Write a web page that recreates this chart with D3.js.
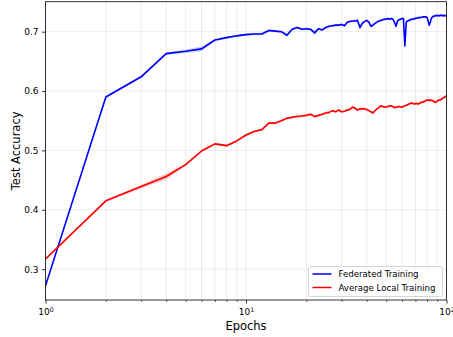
<!DOCTYPE html>
<html>
<head>
<meta charset="utf-8">
<script src="https://cdn.jsdelivr.net/npm/d3@7"></script>
<style>
  html, body { margin: 0; padding: 0; background: #fff; }
  svg { display: block; font-family: "DejaVu Sans", sans-serif; }
</style>
</head>
<body>
<svg id="chart" width="453" height="337"></svg>
<script>
// Test accuracy per epoch (1..100), mean and spread over runs
const epochs = d3.range(1, 101);

const federatedMean = [
  0.272, 0.590, 0.624, 0.663, 0.667, 0.671, 0.686, 0.690, 0.693, 0.695,
  0.696, 0.696, 0.702, 0.701, 0.700, 0.694, 0.704, 0.707, 0.704, 0.705,
  0.704, 0.698, 0.705, 0.703, 0.707, 0.709, 0.710, 0.711, 0.711, 0.712,
  0.710, 0.716, 0.717, 0.718, 0.718, 0.719, 0.707, 0.714, 0.717, 0.719,
  0.716, 0.709, 0.711, 0.714, 0.716, 0.718, 0.719, 0.720, 0.721, 0.721,
  0.722, 0.721, 0.722, 0.721, 0.716, 0.709, 0.718, 0.720, 0.721, 0.722,
  0.722, 0.676, 0.716, 0.718, 0.719, 0.720, 0.721, 0.721, 0.722, 0.722,
  0.723, 0.723, 0.724, 0.724, 0.724, 0.725, 0.725, 0.725, 0.725, 0.724,
  0.718, 0.711, 0.716, 0.722, 0.725, 0.726, 0.726, 0.727, 0.727, 0.727,
  0.727, 0.727, 0.727, 0.728, 0.727, 0.727, 0.727, 0.727, 0.727, 0.727
];

const federatedStd = [
  0.001, 0.002, 0.002, 0.002, 0.003, 0.004, 0.002, 0.002, 0.002, 0.002,
  0.002, 0.002, 0.002, 0.002, 0.002, 0.003, 0.002, 0.002, 0.002, 0.002,
  0.002, 0.003, 0.002, 0.002, 0.002, 0.002, 0.002, 0.002, 0.002, 0.002,
  0.002, 0.002, 0.002, 0.002, 0.002, 0.002, 0.004, 0.003, 0.002, 0.002,
  0.002, 0.003, 0.003, 0.002, 0.002, 0.002, 0.002, 0.002, 0.002, 0.002,
  0.002, 0.002, 0.002, 0.002, 0.003, 0.004, 0.002, 0.002, 0.002, 0.002,
  0.002, 0.007, 0.003, 0.002, 0.002, 0.002, 0.002, 0.002, 0.002, 0.002,
  0.002, 0.002, 0.002, 0.002, 0.002, 0.002, 0.002, 0.002, 0.002, 0.002,
  0.003, 0.004, 0.003, 0.002, 0.002, 0.002, 0.002, 0.002, 0.002, 0.002,
  0.002, 0.002, 0.002, 0.002, 0.002, 0.002, 0.002, 0.002, 0.002, 0.002
];

const localMean = [
  0.317, 0.415, 0.439, 0.456, 0.476, 0.499, 0.511, 0.508, 0.516, 0.526,
  0.532, 0.535, 0.546, 0.546, 0.550, 0.554, 0.556, 0.557, 0.558, 0.559,
  0.561, 0.557, 0.559, 0.561, 0.563, 0.564, 0.567, 0.565, 0.568, 0.565,
  0.566, 0.568, 0.569, 0.573, 0.571, 0.568, 0.570, 0.570, 0.570, 0.569,
  0.567, 0.565, 0.563, 0.567, 0.570, 0.572, 0.575, 0.574, 0.573, 0.573,
  0.574, 0.575, 0.575, 0.574, 0.572, 0.573, 0.573, 0.574, 0.573, 0.573,
  0.574, 0.575, 0.576, 0.577, 0.578, 0.579, 0.580, 0.579, 0.578, 0.579,
  0.579, 0.578, 0.579, 0.580, 0.581, 0.581, 0.582, 0.583, 0.584, 0.585,
  0.585, 0.584, 0.585, 0.584, 0.584, 0.583, 0.582, 0.581, 0.582, 0.583,
  0.584, 0.585, 0.585, 0.586, 0.587, 0.588, 0.589, 0.590, 0.591, 0.592
];

const localStd = [
  0.003, 0.002, 0.003, 0.005, 0.002, 0.002, 0.002, 0.002, 0.002, 0.002,
  0.002, 0.002, 0.002, 0.002, 0.002, 0.002, 0.002, 0.002, 0.002, 0.002,
  0.002, 0.002, 0.002, 0.002, 0.002, 0.002, 0.002, 0.002, 0.002, 0.002,
  0.002, 0.002, 0.002, 0.002, 0.002, 0.002, 0.002, 0.002, 0.002, 0.002,
  0.002, 0.002, 0.002, 0.002, 0.002, 0.002, 0.002, 0.002, 0.002, 0.002,
  0.002, 0.002, 0.002, 0.002, 0.002, 0.002, 0.002, 0.002, 0.002, 0.002,
  0.002, 0.002, 0.002, 0.002, 0.002, 0.002, 0.002, 0.002, 0.002, 0.002,
  0.002, 0.002, 0.002, 0.002, 0.002, 0.002, 0.002, 0.002, 0.002, 0.002,
  0.002, 0.002, 0.002, 0.002, 0.002, 0.002, 0.002, 0.002, 0.002, 0.002,
  0.002, 0.002, 0.002, 0.002, 0.002, 0.002, 0.002, 0.002, 0.002, 0.002
];

const seriesNames = ["Federated Training", "Average Local Training"];
const seriesColors = ["#0000ff", "#ff0000"];
const yTicks = [0.3, 0.4, 0.5, 0.6, 0.7];
const xMajorTicks = [1, 10, 100];
const xMinorTicks = [2, 3, 4, 5, 6, 7, 8, 9, 20, 30, 40, 50, 60, 70, 80, 90];
const xTickExponents = ["0", "1", "2"];

const margin = { left: 45.5, right: 6.5, top: 1.7, bottom: 37 };
const W = 453, H = 337;
const svg = d3.select("#chart");

const x = d3.scaleLog().domain([1, 100]).range([margin.left, W - margin.right]);
const y = d3.scaleLinear().domain([0.248, 0.7505]).range([H - margin.bottom, margin.top]);

const plot = svg.append("g");

// grid lines (major + minor on x, major on y)
plot.append("g").selectAll("line.gx")
  .data(xMajorTicks.concat(xMinorTicks))
  .join("line")
  .attr("x1", d => x(d)).attr("x2", d => x(d))
  .attr("y1", y.range()[1]).attr("y2", y.range()[0])
  .attr("stroke", "#b0b0b0").attr("stroke-opacity", 0.3).attr("stroke-width", 0.8);
plot.append("g").selectAll("line.gy")
  .data(yTicks)
  .join("line")
  .attr("x1", x.range()[0]).attr("x2", x.range()[1])
  .attr("y1", d => y(d)).attr("y2", d => y(d))
  .attr("stroke", "#b0b0b0").attr("stroke-opacity", 0.3).attr("stroke-width", 0.8);

svg.append("clipPath").attr("id", "plotclip")
  .append("rect")
  .attr("x", x.range()[0]).attr("y", y.range()[1])
  .attr("width", x.range()[1] - x.range()[0])
  .attr("height", y.range()[0] - y.range()[1]);

const seriesData = [
  { mean: federatedMean, std: federatedStd },
  { mean: localMean, std: localStd }
];

const area = d3.area()
  .x(d => x(d.e))
  .y0(d => y(d.m - d.s))
  .y1(d => y(d.m + d.s));
const line = d3.line()
  .x(d => x(d.e))
  .y(d => y(d.m));

const marks = plot.append("g").attr("clip-path", "url(#plotclip)");
seriesData.forEach((s, i) => {
  const pts = epochs.map((e, k) => ({ e, m: s.mean[k], s: s.std[k] }));
  marks.append("path").datum(pts)
    .attr("d", area)
    .attr("fill", seriesColors[i]).attr("fill-opacity", 0.2);
});
seriesData.forEach((s, i) => {
  const pts = epochs.map((e, k) => ({ e, m: s.mean[k], s: s.std[k] }));
  marks.append("path").datum(pts)
    .attr("d", line)
    .attr("fill", "none")
    .attr("stroke", seriesColors[i])
    .attr("stroke-width", 1.6)
    .attr("stroke-linejoin", "round");
});

// axes
const yAxis = d3.axisLeft(y).tickValues(yTicks).tickSize(3.5).tickPadding(3.5)
  .tickFormat(d3.format(".1f"));
const gy = svg.append("g").attr("transform", `translate(${x.range()[0]},0)`).call(yAxis);
gy.select(".domain").remove();
gy.selectAll("line").attr("stroke", "#000").attr("stroke-width", 0.8);
gy.selectAll("text").attr("font-size", 9).attr("fill", "#000")
  .attr("font-family", "DejaVu Sans, sans-serif");

const xAxis = d3.axisBottom(x).tickValues(xMajorTicks).tickSize(3.5).tickPadding(3.5)
  .tickFormat(() => "");
const gx = svg.append("g").attr("transform", `translate(0,${y.range()[0]})`).call(xAxis);
gx.select(".domain").remove();
gx.selectAll("line").attr("stroke", "#000").attr("stroke-width", 0.8);
gx.selectAll(".tick text").each(function (d, i) {
  const t = d3.select(this)
    .attr("font-size", 9).attr("fill", "#000")
    .attr("font-family", "DejaVu Sans, sans-serif")
    .attr("dy", "0.85em");
  t.append("tspan").text("10");
  t.append("tspan").attr("font-size", 6.3).attr("dy", "-0.4em").text(xTickExponents[i]);
});
const xMinor = d3.axisBottom(x).tickValues(xMinorTicks).tickSize(2).tickFormat(() => "");
const gxm = svg.append("g").attr("transform", `translate(0,${y.range()[0]})`).call(xMinor);
gxm.select(".domain").remove();
gxm.selectAll("line").attr("stroke", "#000").attr("stroke-width", 0.6);

// frame
svg.append("rect")
  .attr("x", x.range()[0]).attr("y", y.range()[1])
  .attr("width", x.range()[1] - x.range()[0])
  .attr("height", y.range()[0] - y.range()[1])
  .attr("fill", "none").attr("stroke", "#000").attr("stroke-width", 0.8);

// axis titles
svg.append("text")
  .attr("x", (x.range()[0] + x.range()[1]) / 2).attr("y", 330)
  .attr("text-anchor", "middle").attr("font-size", 11.5).attr("fill", "#000")
  .text("Epochs");
svg.append("text")
  .attr("transform", `translate(20,${(y.range()[0] + y.range()[1]) / 2}) rotate(-90)`)
  .attr("text-anchor", "middle").attr("font-size", 11.5).attr("fill", "#000")
  .text("Test Accuracy");

// legend
const lg = svg.append("g").attr("transform", "translate(308.5,266.5)");
lg.append("rect")
  .attr("width", 134).attr("height", 30).attr("rx", 2.5)
  .attr("fill", "#fff").attr("fill-opacity", 0.8)
  .attr("stroke", "#cccccc").attr("stroke-width", 0.8);
seriesNames.forEach((name, i) => {
  const yy = 7.5 + i * 13.5;
  lg.append("line")
    .attr("x1", 4).attr("x2", 23).attr("y1", yy).attr("y2", yy)
    .attr("stroke", seriesColors[i]).attr("stroke-width", 1.5);
  lg.append("text")
    .attr("x", 30).attr("y", yy).attr("dy", "0.35em")
    .attr("font-size", 8.6).attr("fill", "#000")
    .text(name);
});
</script>
</body>
</html>
